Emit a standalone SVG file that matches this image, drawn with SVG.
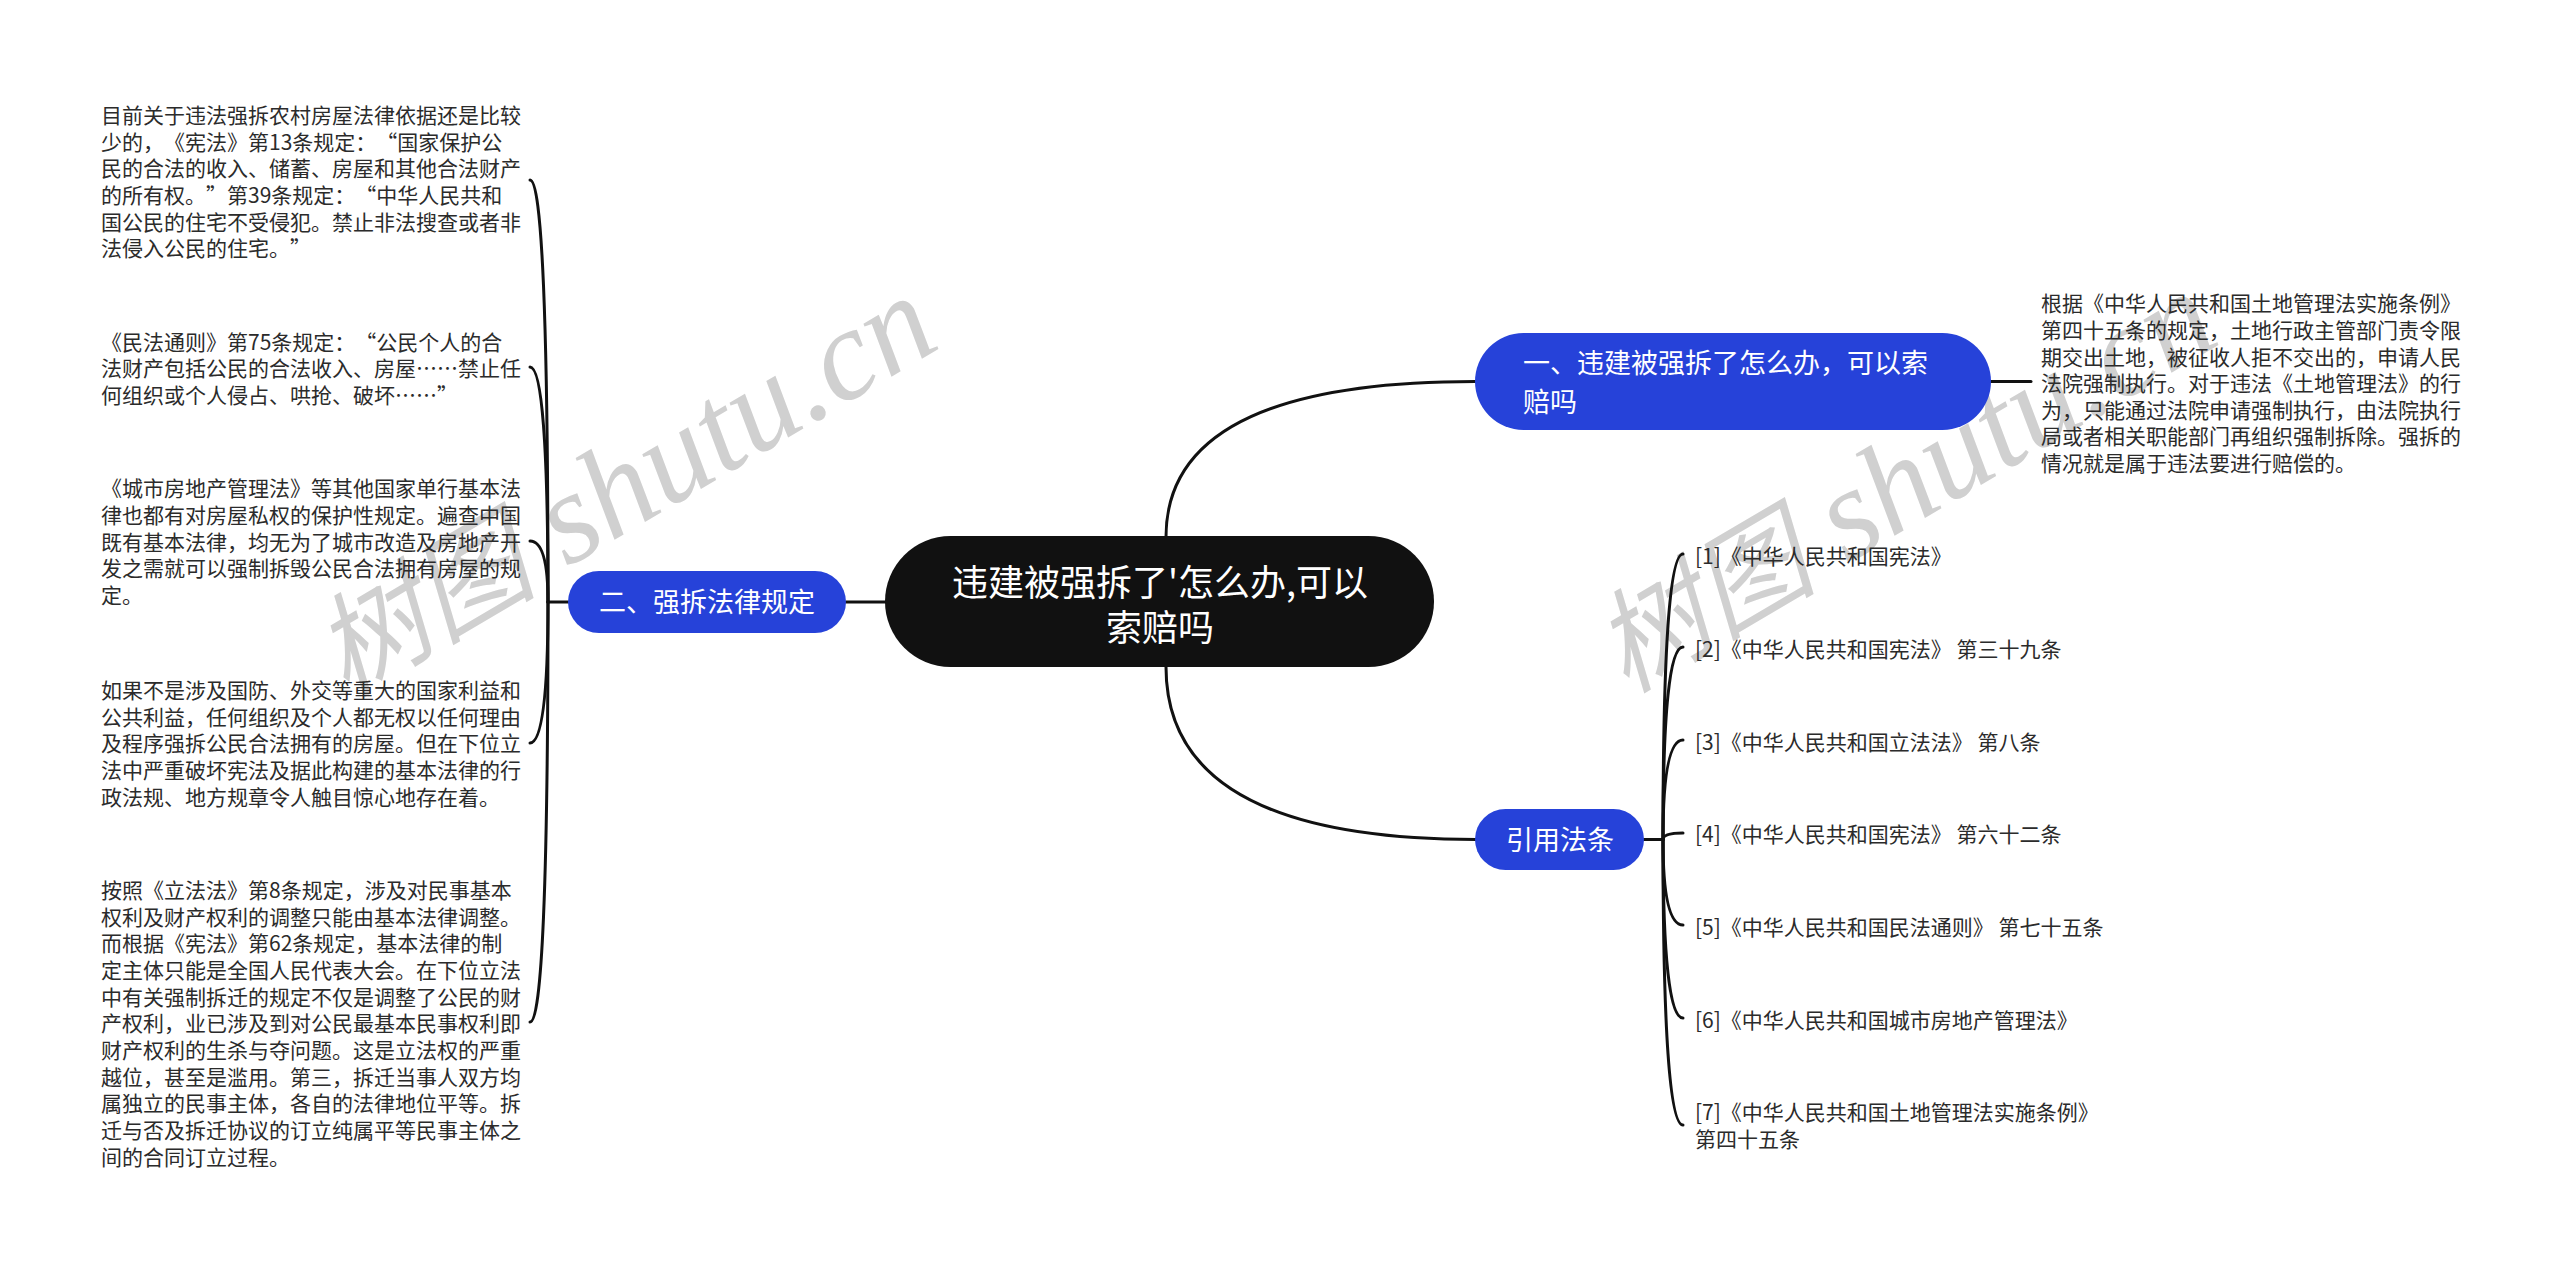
<svg xmlns="http://www.w3.org/2000/svg" width="2560" height="1271" viewBox="0 0 2560 1271">
<style>
.bg{fill:#ffffff}
.wm{fill:#d0d0d0}
.wmc{font-family:'Noto Sans CJK SC','Liberation Sans',sans-serif;font-style:italic;font-size:112px}
.wml{font-family:'Liberation Serif','Noto Sans CJK SC',serif;font-style:italic;font-size:130px}
.t{font-family:'Noto Sans CJK SC','Liberation Sans',sans-serif;font-size:21px;fill:#2b2b2b;text-spacing-trim:space-all}
.q{font-feature-settings:"fwid" 1}
.c{fill:none;stroke:#111111;stroke-width:3;stroke-linecap:round}
.blue{fill:#2642d9}
.root{fill:#111111}
.wt{font-family:'Noto Sans CJK SC','Liberation Sans',sans-serif;fill:#ffffff;text-spacing-trim:space-all}
</style>
<rect class="bg" x="0" y="0" width="2560" height="1271"/>
<g id="watermarks" class="wm">
<text x="346" y="698" transform="rotate(-30.5 346 698)"><tspan class="wmc">树图</tspan><tspan class="wml"> shutu.cn</tspan></text>
<text x="1626" y="694" transform="rotate(-30.5 1626 694)"><tspan class="wmc">树图</tspan><tspan class="wml"> shutu.cn</tspan></text>
</g>
<g id="connectors">
<path class="c" d="M1166 601 L1166 537 Q1166 381.5 1475 381.5"/>
<path class="c" d="M1166 601 L1166 667 Q1166 839.5 1476 839.5"/>
<path class="c" d="M886 602 L846 602"/>
<path class="c" d="M1991 381.5 L2031 381.5"/>
<path class="c" d="M568 602 L548 602"/>
<path class="c" d="M548 602 Q548 180 530 180"/>
<path class="c" d="M548 602 Q548 367 530 367"/>
<path class="c" d="M548 602 Q548 541 530 541"/>
<path class="c" d="M548 602 Q548 743 530 743"/>
<path class="c" d="M548 602 Q548 1022 530 1022"/>
<path class="c" d="M1644 839.5 L1663 839.5"/>
<path class="c" d="M1663 839.5 Q1663 554 1683 554"/>
<path class="c" d="M1663 839.5 Q1663 647 1683 647"/>
<path class="c" d="M1663 839.5 Q1663 740 1683 740"/>
<path class="c" d="M1663 839.5 Q1663 833 1683 833"/>
<path class="c" d="M1663 839.5 Q1663 925 1683 925"/>
<path class="c" d="M1663 839.5 Q1663 1018 1683 1018"/>
<path class="c" d="M1663 839.5 Q1663 1125 1683 1125"/>
</g>
<g id="root">
<rect class="root" x="885" y="536" width="549" height="131" rx="65.5"/>
<text class="wt" font-size="36" text-anchor="middle"><tspan x="1160" y="595.7">违建被强拆了'怎么办,可以</tspan><tspan x="1160" y="640.7">索赔吗</tspan></text>
</g>
<g id="node-1">
<rect class="blue" x="1475" y="333" width="516" height="97" rx="48.5"/>
<text class="wt" font-size="27"><tspan x="1523" y="373.3">一、违建被强拆了怎么办，可以索</tspan><tspan x="1523" y="412.3">赔吗</tspan></text>
</g>
<g id="node-1-detail">
<text class="t"><tspan x="2041" y="311.3">根据《中华人民共和国土地管理法实施条例》</tspan><tspan x="2041" dy="26.6">第四十五条的规定，土地行政主管部门责令限</tspan><tspan x="2041" dy="26.6">期交出土地，被征收人拒不交出的，申请人民</tspan><tspan x="2041" dy="26.6">法院强制执行。对于违法《土地管理法》的行</tspan><tspan x="2041" dy="26.6">为，只能通过法院申请强制执行，由法院执行</tspan><tspan x="2041" dy="26.6">局或者相关职能部门再组织强制拆除。强拆的</tspan><tspan x="2041" dy="26.6">情况就是属于违法要进行赔偿的。</tspan></text>
</g>
<g id="node-2">
<rect class="blue" x="568" y="571" width="278" height="62" rx="31"/>
<text class="wt" font-size="27" text-anchor="middle" x="707" y="612.3">二、强拆法律规定</text>
</g>
<g id="node-2-a">
<text class="t"><tspan x="101" y="123">目前关于违法强拆农村房屋法律依据还是比较</tspan><tspan x="101" dy="26.67">少的，《宪法》第13条规定：<tspan class="q">“</tspan>国家保护公</tspan><tspan x="101" dy="26.67">民的合法的收入、储蓄、房屋和其他合法财产</tspan><tspan x="101" dy="26.67">的所有权。<tspan class="q">”</tspan>第39条规定：<tspan class="q">“</tspan>中华人民共和</tspan><tspan x="101" dy="26.67">国公民的住宅不受侵犯。禁止非法搜查或者非</tspan><tspan x="101" dy="26.67">法侵入公民的住宅。<tspan class="q">”</tspan></tspan></text>
</g>
<g id="node-2-b">
<text class="t"><tspan x="101" y="349.7">《民法通则》第75条规定：<tspan class="q">“</tspan>公民个人的合</tspan><tspan x="101" dy="26.67">法财产包括公民的合法收入、房屋……禁止任</tspan><tspan x="101" dy="26.67">何组织或个人侵占、哄抢、破坏……<tspan class="q">”</tspan></tspan></text>
</g>
<g id="node-2-c">
<text class="t"><tspan x="101" y="496.3">《城市房地产管理法》等其他国家单行基本法</tspan><tspan x="101" dy="26.67">律也都有对房屋私权的保护性规定。遍查中国</tspan><tspan x="101" dy="26.67">既有基本法律，均无为了城市改造及房地产开</tspan><tspan x="101" dy="26.67">发之需就可以强制拆毁公民合法拥有房屋的规</tspan><tspan x="101" dy="26.67">定。</tspan></text>
</g>
<g id="node-2-d">
<text class="t"><tspan x="101" y="698">如果不是涉及国防、外交等重大的国家利益和</tspan><tspan x="101" dy="26.67">公共利益，任何组织及个人都无权以任何理由</tspan><tspan x="101" dy="26.67">及程序强拆公民合法拥有的房屋。但在下位立</tspan><tspan x="101" dy="26.67">法中严重破坏宪法及据此构建的基本法律的行</tspan><tspan x="101" dy="26.67">政法规、地方规章令人触目惊心地存在着。</tspan></text>
</g>
<g id="node-2-e">
<text class="t"><tspan x="101" y="898">按照《立法法》第8条规定，涉及对民事基本</tspan><tspan x="101" dy="26.67">权利及财产权利的调整只能由基本法律调整。</tspan><tspan x="101" dy="26.67">而根据《宪法》第62条规定，基本法律的制</tspan><tspan x="101" dy="26.67">定主体只能是全国人民代表大会。在下位立法</tspan><tspan x="101" dy="26.67">中有关强制拆迁的规定不仅是调整了公民的财</tspan><tspan x="101" dy="26.67">产权利，业已涉及到对公民最基本民事权利即</tspan><tspan x="101" dy="26.67">财产权利的生杀与夺问题。这是立法权的严重</tspan><tspan x="101" dy="26.67">越位，甚至是滥用。第三，拆迁当事人双方均</tspan><tspan x="101" dy="26.67">属独立的民事主体，各自的法律地位平等。拆</tspan><tspan x="101" dy="26.67">迁与否及拆迁协议的订立纯属平等民事主体之</tspan><tspan x="101" dy="26.67">间的合同订立过程。</tspan></text>
</g>
<g id="node-3">
<rect class="blue" x="1475" y="809" width="169" height="61" rx="30.5"/>
<text class="wt" font-size="27" text-anchor="middle" x="1560" y="849.8">引用法条</text>
</g>
<g id="cite-1"><text class="t" x="1695" y="564">[1]《中华人民共和国宪法》</text></g>
<g id="cite-2"><text class="t" x="1695" y="656.8">[2]《中华人民共和国宪法》 第三十九条</text></g>
<g id="cite-3"><text class="t" x="1695" y="749.5">[3]《中华人民共和国立法法》 第八条</text></g>
<g id="cite-4"><text class="t" x="1695" y="842">[4]《中华人民共和国宪法》 第六十二条</text></g>
<g id="cite-5"><text class="t" x="1695" y="934.7">[5]《中华人民共和国民法通则》 第七十五条</text></g>
<g id="cite-6"><text class="t" x="1695" y="1027.5">[6]《中华人民共和国城市房地产管理法》</text></g>
<g id="cite-7"><text class="t"><tspan x="1695" y="1120.3">[7]《中华人民共和国土地管理法实施条例》</tspan><tspan x="1695" y="1147">第四十五条</tspan></text></g>
</svg>
